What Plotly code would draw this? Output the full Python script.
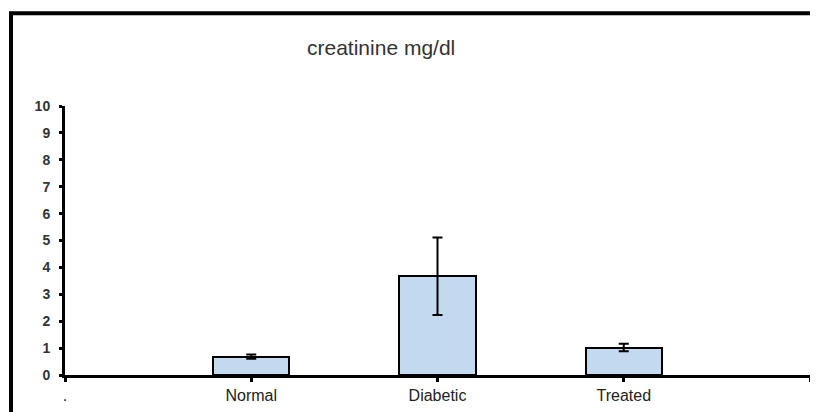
import plotly.graph_objects as go

title_text = "creatinine mg/dl"
categories = ["Normal", "Diabetic", "Treated"]
means = [0.68, 3.67, 1.02]
errors = [0.08, 1.44, 0.14]
tick_labels = [".", "Normal", "Diabetic", "Treated", ""]
y_ticks = list(range(0, 11))

x_pos = [tick_labels.index(c) for c in categories]

# page has ~8px body offset; work in page pixel coords
OFF = 8
W, H = 818 - OFF, 412 - OFF
L, R, T, B = 65 - OFF, 8, 106 - OFF, 35
pw = W - L - R
ph = H - T - B

def px_x(px):
    return (px - OFF - L) / pw

def px_y(py):
    return (H - B - (py - OFF)) / ph

fig = go.Figure()
fig.add_trace(go.Bar(
    x=x_pos, y=means, width=0.41,
    marker=dict(color="#C2D9EF", line=dict(color="black", width=2)),
    error_y=dict(type="data", array=errors, visible=True, color="black",
                 thickness=2, width=5),
    showlegend=False,
))

fig.update_layout(
    width=W, height=H,
    margin=dict(l=L, r=R, t=T, b=B),
    paper_bgcolor="white", plot_bgcolor="white",
    font=dict(family="Liberation Sans, Arial, sans-serif", color="#222"),
    bargap=0,
)
fig.update_xaxes(
    type="linear", range=[0, 4],
    tickvals=list(range(len(tick_labels))), ticktext=tick_labels,
    showgrid=False, zeroline=False,
    showline=True, linecolor="black", linewidth=3,
    ticks="outside", ticklen=4, tickwidth=3, tickcolor="black",
    tickfont=dict(size=16, color="#222"),
)
fig.update_yaxes(
    range=[0, 10], tickvals=y_ticks,
    showgrid=False, zeroline=False,
    showline=True, linecolor="black", linewidth=3,
    ticks="outside", ticklen=3, tickwidth=3, tickcolor="black",
    tickfont=dict(size=14, color="#333", weight="bold"),
    ticklabelstandoff=6,
)

fig.add_annotation(
    text=title_text, xref="paper", yref="paper",
    x=px_x(381), y=px_y(47), xanchor="center", yanchor="middle",
    showarrow=False, font=dict(size=21, color="#333"),
)

# outer frame (top and left)
fig.add_shape(type="line", xref="paper", yref="paper",
              x0=px_x(9), x1=px_x(830), y0=px_y(12.5), y1=px_y(12.5),
              line=dict(color="black", width=4))
fig.add_shape(type="line", xref="paper", yref="paper",
              x0=px_x(11), x1=px_x(11), y0=px_y(11), y1=px_y(420),
              line=dict(color="black", width=4))

fig.write_html("out.html")
